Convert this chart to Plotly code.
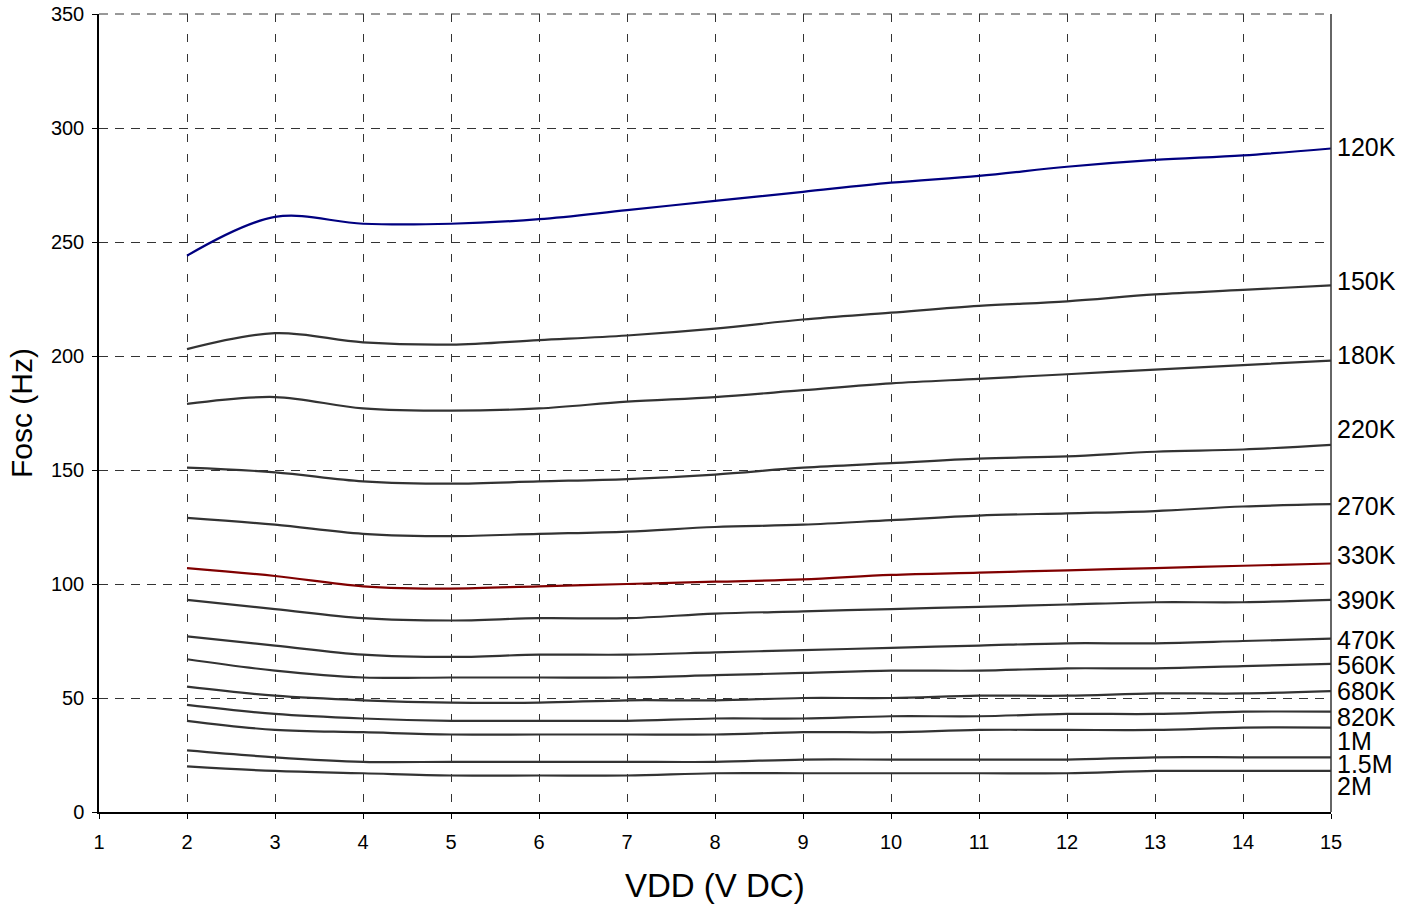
import plotly.graph_objects as go

vdd = [2, 3, 4, 5, 6, 7, 8, 9, 10, 11, 12, 13, 14, 15]

f_120K = [244, 261, 258, 258, 260, 264, 268, 272, 276, 279, 283, 286, 288, 291]
f_150K = [203, 210, 206, 205, 207, 209, 212, 216, 219, 222, 224, 227, 229, 231]
f_180K = [179, 182, 177, 176, 177, 180, 182, 185, 188, 190, 192, 194, 196, 198]
f_220K = [151, 149, 145, 144, 145, 146, 148, 151, 153, 155, 156, 158, 159, 161]
f_270K = [129, 126, 122, 121, 122, 123, 125, 126, 128, 130, 131, 132, 134, 135]
f_330K = [107, 103.5, 99, 98, 99, 100, 101, 102, 104, 105, 106, 107, 108, 109]
f_390K = [93, 89, 85, 84, 85, 85, 87, 88, 89, 90, 91, 92, 92, 93]
f_470K = [77, 73, 69, 68, 69, 69, 70, 71, 72, 73, 74, 74, 75, 76]
f_560K = [67, 62, 59, 59, 59, 59, 60, 61, 62, 62, 63, 63, 64, 65]
f_680K = [55, 51, 49, 48, 48, 49, 49, 50, 50, 51, 51, 52, 52, 53]
f_820K = [47, 43, 41, 40, 40, 40, 41, 41, 42, 42, 43, 43, 44, 44]
f_1M = [40, 36, 35, 34, 34, 34, 34, 35, 35, 36, 36, 36, 37, 37]
f_1_5M = [27, 24, 22, 22, 22, 22, 22, 23, 23, 23, 23, 24, 24, 24]
f_2M = [20, 18, 17, 16, 16, 16, 17, 17, 17, 17, 17, 18, 18, 18]

series_names = ["120K", "150K", "180K", "220K", "270K", "330K", "390K",
                "470K", "560K", "680K", "820K", "1M", "1.5M", "2M"]
series_values = [f_120K, f_150K, f_180K, f_220K, f_270K, f_330K, f_390K,
                 f_470K, f_560K, f_680K, f_820K, f_1M, f_1_5M, f_2M]
series_colors = ["#000080", "#333333", "#333333", "#333333", "#333333", "#800000", "#333333",
                 "#333333", "#333333", "#333333", "#333333", "#333333", "#333333", "#333333"]
# vertical placement of the right-hand labels (in y-axis units)
label_y = [291.6, 232.8, 200.4, 167.9, 134.3, 112.6, 93.1, 75.4, 64.3, 52.9, 41.6, 31.0, 21.1, 11.6]

x_ticks = list(range(1, 16))
y_ticks = list(range(0, 351, 50))

FONT = "Arial, Liberation Sans, sans-serif"

fig = go.Figure()
for name, vals, col in zip(series_names, series_values, series_colors):
    fig.add_trace(go.Scatter(
        x=vdd, y=vals, mode="lines", name=name,
        line=dict(color=col, width=2.2, shape="spline", smoothing=1.0),
        showlegend=False, hoverinfo="x+y+name",
    ))

for name, ly in zip(series_names, label_y):
    fig.add_annotation(
        x=1, xref="paper", y=ly, yref="y", text=name, showarrow=False,
        xanchor="left", yanchor="middle", xshift=4,
        font=dict(family=FONT, size=25, color="#000000"),
    )

fig.add_annotation(
    x=0.5, xref="paper", y=0, yref="paper", text="VDD (V DC)", showarrow=False,
    xanchor="center", yanchor="middle", yshift=-73,
    font=dict(family=FONT, size=33, color="#000000"),
)
fig.add_annotation(
    x=0, xref="paper", y=0.5, yref="paper", text="Fosc (Hz)", showarrow=False,
    xanchor="center", yanchor="middle", xshift=-78, textangle=-90,
    font=dict(family=FONT, size=30, color="#000000"),
)

# top dashed gridline and right border of the plot area
fig.add_shape(type="line", xref="paper", yref="paper", x0=0, x1=1, y0=1, y1=1,
              line=dict(color="#333333", width=1, dash="9px,7px"))
fig.add_shape(type="line", xref="paper", yref="paper", x0=1, x1=1, y0=0, y1=1,
              line=dict(color="#333333", width=1.5))

fig.update_layout(
    width=1417, height=905,
    margin=dict(l=99, r=86, t=14, b=93, autoexpand=False),
    paper_bgcolor="white", plot_bgcolor="white",
    font=dict(family=FONT, size=20, color="#000000"),
    xaxis=dict(
        range=[1, 15], tickvals=x_ticks, ticktext=[str(v) for v in x_ticks],
        showgrid=True, gridcolor="#333333", gridwidth=1, griddash="8px,12px",
        showline=True, linecolor="#000000", linewidth=1.5,
        ticks="outside", ticklen=5, tickcolor="#000000", tickwidth=1,
        ticklabelstandoff=6, automargin=False,
        zeroline=False, tickfont=dict(family=FONT, size=20, color="#000000"),
        fixedrange=True,
    ),
    yaxis=dict(
        range=[0, 350], tickvals=y_ticks, ticktext=[str(v) for v in y_ticks],
        showgrid=True, gridcolor="#333333", gridwidth=1, griddash="9px,7px",
        showline=True, linecolor="#000000", linewidth=1.5,
        ticks="outside", ticklen=5, tickcolor="#000000", tickwidth=1,
        ticklabelstandoff=4, automargin=False,
        zeroline=False, tickfont=dict(family=FONT, size=20, color="#000000"),
        fixedrange=True,
    ),
)

fig.write_html("out.html",
               config={"displayModeBar": False, "staticPlot": False},
               post_script="document.body.style.margin='0';document.body.style.overflow='hidden';")
